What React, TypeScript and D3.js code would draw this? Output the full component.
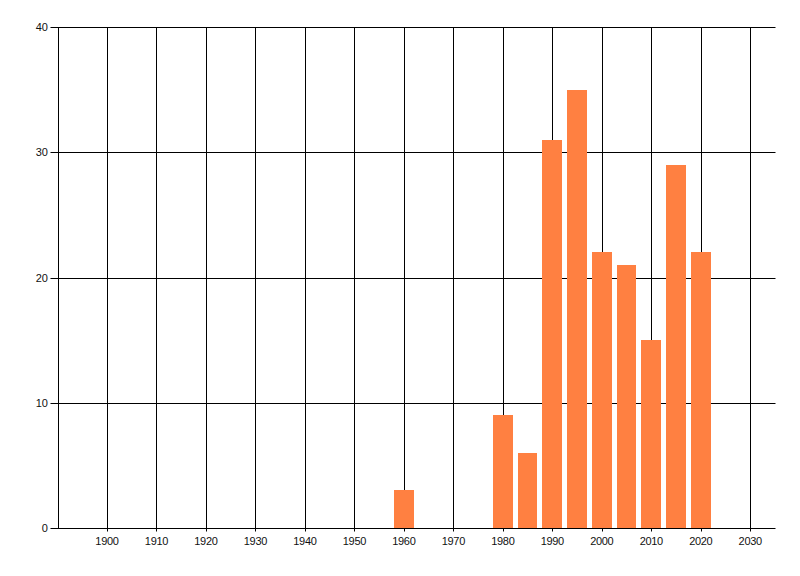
import { useEffect, useRef } from 'react';
import * as d3 from 'd3';

// decade ticks shown on the x axis
const xTicks = [1900, 1910, 1920, 1930, 1940, 1950, 1960, 1970, 1980, 1990, 2000, 2010, 2020, 2030];
const yTicks = [0, 10, 20, 30, 40];

// bar data (year -> count)
const years = [1960, 1980, 1985, 1990, 1995, 2000, 2005, 2010, 2015, 2020];
const counts = [3, 9, 6, 31, 35, 22, 21, 15, 29, 22];

const W = 800;
const H = 576;
const margin = { top: 27, right: 25, bottom: 48, left: 57.5 };

export default function App() {
  const svgRef = useRef<SVGSVGElement>(null);

  useEffect(() => {
    if (!svgRef.current) return;
    const root = d3.select(svgRef.current);
    root.selectAll('*').remove();

    const x = d3.scaleLinear().domain([1890, 2035]).range([margin.left, W - margin.right]);
    const y = d3.scaleLinear().domain([0, 40]).range([H - margin.bottom, margin.top]);
    const crisp = (v: number) => Math.round(v) + 0.5;

    const x0 = crisp(x(1890));
    const x1 = crisp(x(2035));
    const yTop = crisp(y(40));
    const yBot = crisp(y(0));

    // vertical grid
    root
      .append('g')
      .selectAll('line')
      .data(xTicks)
      .enter()
      .append('line')
      .attr('x1', (d) => crisp(x(d)))
      .attr('x2', (d) => crisp(x(d)))
      .attr('y1', yTop)
      .attr('y2', yBot + 3)
      .attr('stroke', '#000')
      .attr('stroke-width', 1);

    // horizontal grid
    root
      .append('g')
      .selectAll('line')
      .data(yTicks)
      .enter()
      .append('line')
      .attr('x1', x0 - 8)
      .attr('x2', x1)
      .attr('y1', (d) => crisp(y(d)))
      .attr('y2', (d) => crisp(y(d)))
      .attr('stroke', '#000')
      .attr('stroke-width', 1);

    // left axis line
    root
      .append('line')
      .attr('x1', x0)
      .attr('x2', x0)
      .attr('y1', yTop)
      .attr('y2', yBot)
      .attr('stroke', '#000');

    // bars
    root
      .append('g')
      .selectAll('rect')
      .data(years)
      .enter()
      .append('rect')
      .attr('x', (d) => x(d - 2))
      .attr('width', (d) => x(d + 2) - x(d - 2))
      .attr('y', (_, i) => y(counts[i]))
      .attr('height', (_, i) => y(0) - y(counts[i]))
      .attr('fill', '#ff8041')
      .attr('shape-rendering', 'crispEdges');

    // x labels
    root
      .append('g')
      .selectAll('text')
      .data(xTicks)
      .enter()
      .append('text')
      .attr('x', (d) => x(d))
      .attr('y', yBot + 16)
      .attr('text-anchor', 'middle')
      .style('font-family', '"Liberation Sans", Arial, sans-serif')
      .style('font-size', '11px')
      .style('letter-spacing', '-0.3px')
      .style('fill', '#111')
      .text((d) => String(d));

    // y labels
    root
      .append('g')
      .selectAll('text')
      .data(yTicks)
      .enter()
      .append('text')
      .attr('x', x0 - 11)
      .attr('y', (d) => y(d) + 4)
      .attr('text-anchor', 'end')
      .style('font-family', '"Liberation Sans", Arial, sans-serif')
      .style('font-size', '11px')
      .style('letter-spacing', '-0.3px')
      .style('fill', '#111')
      .text((d) => String(d));
  }, []);

  return (
    <svg
      ref={svgRef}
      width={W}
      height={H}
      style={{ position: 'absolute', left: 0, top: 0, background: '#fff' }}
    />
  );
}
